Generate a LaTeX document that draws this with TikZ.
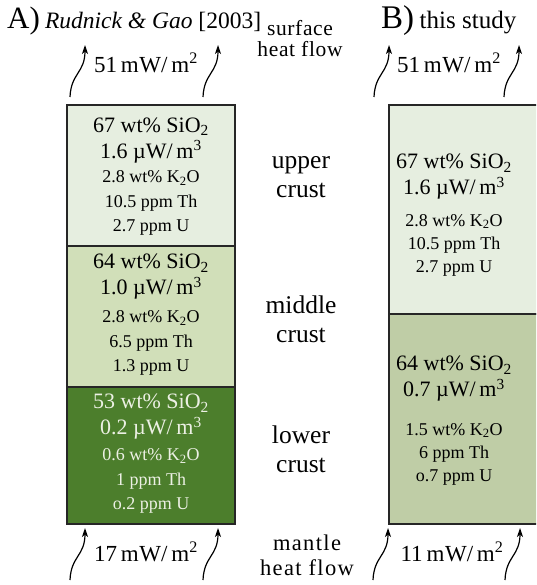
\documentclass[tikz,border=0pt]{standalone}
\usepackage{fontspec}
\setmainfont{Liberation Serif}
\usetikzlibrary{arrows.meta}

\definecolor{upperfill}{RGB}{230,238,224}
\definecolor{midfillA}{RGB}{209,223,185}
\definecolor{lowfillA}{RGB}{76,126,44}
\definecolor{lowfillB}{RGB}{191,205,166}
\definecolor{edge}{RGB}{38,38,38}
\definecolor{paletext}{RGB}{236,240,228}

\newfontfamily\spacedserif[LetterSpace=6]{Liberation Serif}
\newfontfamily\lightspacedserif[LetterSpace=3]{Liberation Serif}

\tikzset{
  layer/.style={draw=edge, line width=1.7pt, anchor=north west, inner sep=0pt},
  bigtxt/.style={align=center, inner sep=0pt, font=\fontsize{22}{26}\selectfont},
  smalltxt/.style={align=center, inner sep=0pt, font=\fontsize{18}{24.5}\selectfont},
  sidetxt/.style={align=center, inner sep=0pt, font=\fontsize{25.5}{29}\selectfont},
  flowlbl/.style={align=center, inner sep=0pt, font=\spacedserif\fontsize{22.5}{25}\selectfont},
  fluxtxt/.style={inner sep=0pt, font=\fontsize{23}{26}\selectfont},
  flow/.style={line width=1.2pt, -{Stealth[length=9pt,width=6pt,inset=2.5pt]}},
  heatup/.pic={\draw[flow] (0,0) .. controls (1,-24) and (15,-24) .. (15,-52);}
}

\newcommand\hfu[1]{#1\,m\kern0.6pt W/\,m\textsuperscript{2}}

\begin{document}
\begin{tikzpicture}[x=1pt,y=-1pt]
\useasboundingbox (0,0) rectangle (536,585);
\clip (0,0) rectangle (536,585);

% titles
\node[anchor=base west, inner sep=0pt] (titleA) at (7,28.5)
  {\fontsize{31}{31}\selectfont A)\,\fontsize{23.5}{24}\selectfont\textit{Rudnick \& Gao} [2003]};
\node[anchor=base west, inner sep=0pt] (titleB) at (381,28.5)
  {\fontsize{33}{33}\selectfont B)\,\fontsize{25}{26}\selectfont this study};

% column A: three crustal layers
\node[layer, fill=upperfill, minimum width=168pt, minimum height=141pt] (uA) at (66,104) {};
\node[layer, fill=midfillA,  minimum width=168pt, minimum height=141pt] (mA) at (66,245) {};
\node[layer, fill=lowfillA,  minimum width=168pt, minimum height=137pt] (lA) at (66,386) {};

\node[bigtxt] (uAbig) at (151,140.5) {67 wt\% SiO\textsubscript{2}\\1.6 µW/\,m\textsuperscript{3}};
\node[smalltxt] (uAsmall) at (151,203) {2.8 wt\% K\textsubscript{2}O\\10.5 ppm Th\\2.7 ppm U};
\node[bigtxt] (mAbig) at (151,277) {64 wt\% SiO\textsubscript{2}\\1.0 µW/\,m\textsuperscript{3}};
\node[smalltxt] (mAsmall) at (151,343) {2.8 wt\% K\textsubscript{2}O\\6.5 ppm Th\\1.3 ppm U};
\node[bigtxt, text=paletext] (lAbig) at (151,417) {53 wt\% SiO\textsubscript{2}\\0.2 µW/\,m\textsuperscript{3}};
\node[smalltxt, text=paletext] (lAsmall) at (151,481) {0.6 wt\% K\textsubscript{2}O\\1 ppm Th\\o.2 ppm U};

% column B: two crustal layers
\node[layer, fill=upperfill, minimum width=170pt, minimum height=209pt] (uB) at (388,104) {};
\node[layer, fill=lowfillB,  minimum width=170pt, minimum height=210pt] (lB) at (388,313) {};

\node[bigtxt] (uBbig) at (454,177) {67 wt\% SiO\textsubscript{2}\\1.6 µW/\,m\textsuperscript{3}};
\node[smalltxt, font=\fontsize{18}{23}\selectfont] (uBsmall) at (454,245) {2.8 wt\% K\textsubscript{2}O\\10.5 ppm Th\\2.7 ppm U};
\node[bigtxt] (lBbig) at (454,379) {64 wt\% SiO\textsubscript{2}\\0.7 µW/\,m\textsuperscript{3}};
\node[smalltxt, font=\fontsize{18}{23}\selectfont] (lBsmall) at (454,454) {1.5 wt\% K\textsubscript{2}O\\6 ppm Th\\o.7 ppm U};

% labels between the columns
\node[flowlbl, font=\lightspacedserif\fontsize{21.5}{21}\selectfont] (surf) at (300,38.5) {surface\\heat flow};
\node[sidetxt] (upper) at (301,177) {upper\\crust};
\node[sidetxt] (middle) at (301,319) {middle\\crust};
\node[sidetxt] (lower) at (301,449) {lower\\crust};
\node[flowlbl] (mant) at (307,555) {mantle\\heat flow};

% heat flow values
\node[fluxtxt] (qsA) at (146,63) {\hfu{51}};
\node[fluxtxt] (qsB) at (449,63) {\hfu{51}};
\node[fluxtxt] (qmA) at (146,552) {\hfu{17}};
\node[fluxtxt] (qmB) at (452,552) {\hfu{11}};

% wavy heat flow arrows
\pic at (70,97) {heatup};
\pic at (203,97) {heatup};
\pic at (374,97) {heatup};
\pic at (504,97) {heatup};
\pic at (70,580) {heatup};
\pic at (203,580) {heatup};
\pic at (373,580) {heatup};
\pic at (505,580) {heatup};
\end{tikzpicture}
\end{document}
